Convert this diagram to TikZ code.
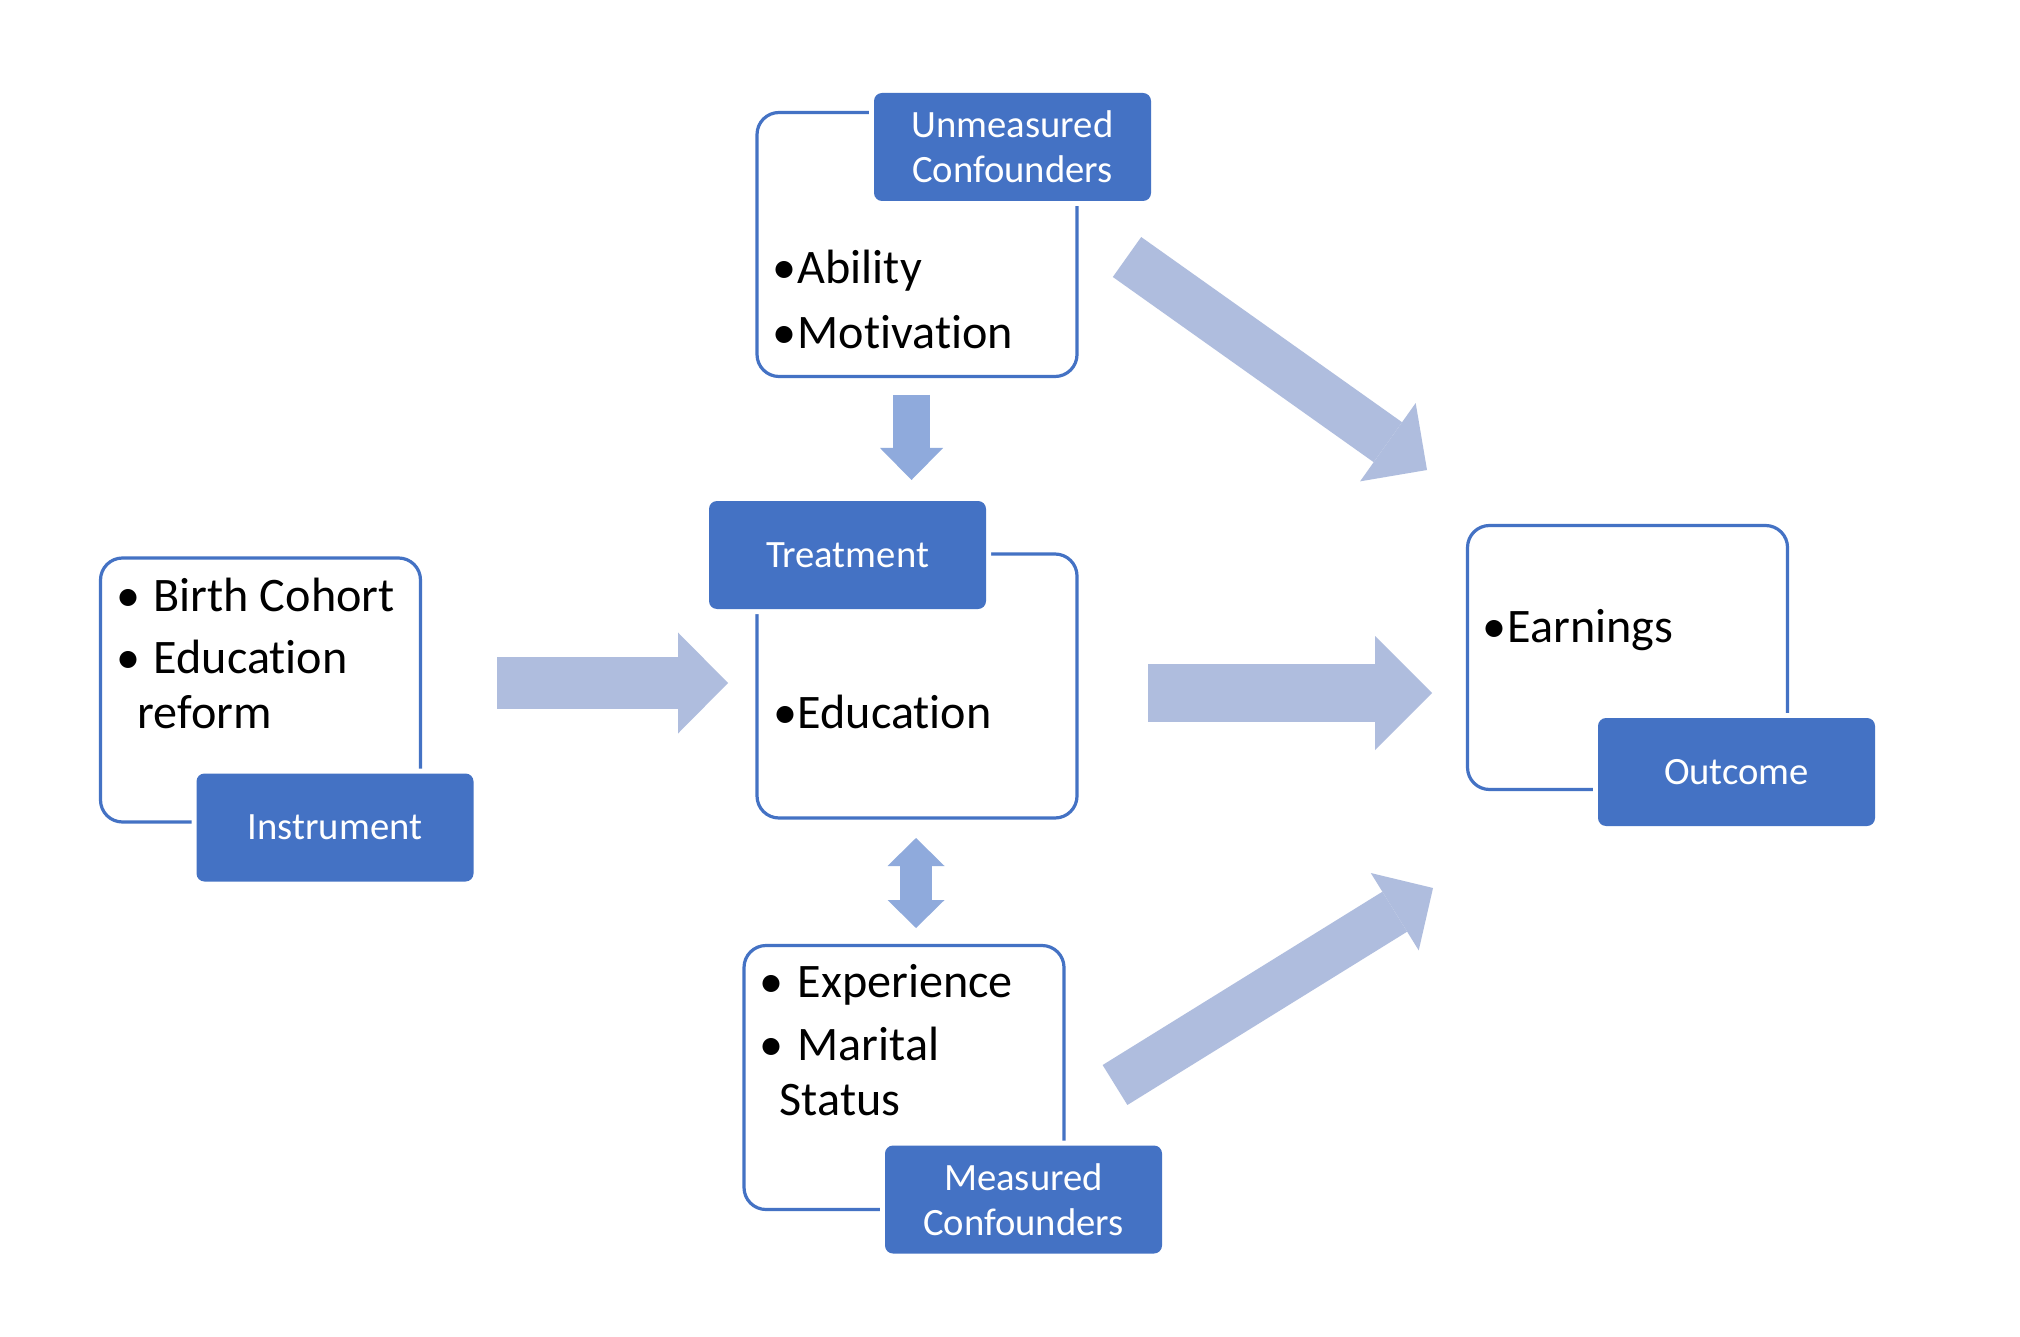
\documentclass[tikz,border=0pt]{standalone}
\usepackage{fontspec}
\setmainfont{Carlito}[Ligatures=NoCommon]
\usepackage{tikz}
\usetikzlibrary{arrows.meta}

\definecolor{lblblue}{HTML}{4472C4}
\definecolor{arrlav}{HTML}{AFBDDE}
\definecolor{arrblue}{HTML}{8FAADC}

\newcommand{\bl}[1]{\makebox[#1][l]{\textbullet}}

\tikzset{
  outline/.style={draw=lblblue, line width=0.32mm, rounded corners=2.2mm,
    minimum width=32mm, minimum height=26.4mm, inner sep=0pt},
  lbl/.style={fill=lblblue, rounded corners=0.8mm, text=white,
    preaction={draw=white, line width=1mm},
    minimum width=27.7mm, minimum height=10.8mm, inner sep=0pt,
    align=center, font=\fontsize{11pt}{12.8pt}\selectfont},
  item/.style={anchor=base west, inner sep=0pt, font=\fontsize{13.7pt}{16pt}\selectfont},
  fat/.style n args={4}{draw=#1, line width=#2,
    -{Triangle[width=#3, length=#4, line width=0pt]}},
  fatboth/.style n args={4}{draw=#1, line width=#2,
    {Triangle[width=#3, length=#4, line width=0pt]}-{Triangle[width=#3, length=#4, line width=0pt]}}
}

\begin{document}
\begin{tikzpicture}[x=0.1mm, y=-0.1mm]
\fill[white] (0,0) rectangle (2020,1336);
\useasboundingbox (0,0) rectangle (2020,1336);

\node[outline] (unmeasBox) at (917,244.5) {};
\node[outline] (instrBox) at (260.5,690) {};
\node[outline] (educBox) at (917,686) {};
\node[outline] (measBox) at (904,1077.5) {};
\node[outline] (outBox) at (1627.5,657.5) {};

\node[lbl] (unmeasLbl) at (1012.5,147) {Unmeasured\\Confounders};
\node[lbl] (instrLbl) at (335,827.5) {Instrument};
\node[lbl] (treatLbl) at (847.5,555) {Treatment};
\node[lbl] (measLbl) at (1023.5,1199.5) {Measured\\Confounders};
\node[lbl] (outLbl) at (1736.5,772) {Outcome};

\node[item] (ability) at (772,284) {\bl{2.5mm}Ability};
\node[item] (motiv) at (772,349) {\bl{2.5mm}Motivation};
\node[item] (birth) at (116,611) {\bl{3.7mm}Birth Cohort};
\node[item] (reform1) at (116,673) {\bl{3.7mm}Education};
\node[item] (reform2) at (137,728) {reform};
\node[item] (educ) at (773,728) {\bl{2.4mm}Education};
\node[item] (exper) at (759,997) {\bl{3.8mm}Experience};
\node[item] (marit1) at (759,1060) {\bl{3.8mm}Marital};
\node[item] (marit2) at (779,1115) {Status};
\node[item] (earn) at (1482,642) {\bl{2.5mm}Earnings};

\coordinate (uTail) at (1127,257);
\coordinate (uTip) at (1427,470);
\coordinate (mTail) at (1115,1085);
\coordinate (mTip) at (1433,888);
\coordinate (iTail) at (497,683);
\coordinate (iTip) at (728,683);
\coordinate (eTail) at (1148,693);
\coordinate (eTip) at (1432,693);
\coordinate (dTail) at (911.5,395);
\coordinate (dTip) at (911.5,480);
\coordinate (bTop) at (916,838);
\coordinate (bBot) at (916,928);

\draw[fat={arrlav}{4.9mm}{9.6mm}{4.8mm}] (uTail) -- (uTip);
\draw[fat={arrlav}{4.7mm}{9.1mm}{4.5mm}] (mTail) -- (mTip);
\draw[fat={arrlav}{5.2mm}{10.1mm}{5mm}] (iTail) -- (iTip);
\draw[fat={arrlav}{5.8mm}{11.4mm}{5.7mm}] (eTail) -- (eTip);
\draw[fat={arrblue}{3.7mm}{6.3mm}{3.2mm}] (dTail) -- (dTip);
%\draw[fat={arrblue}{3.2mm}{5.7mm}{2.8mm}] (bBot) -- (bTop);
\draw[fatboth={arrblue}{3.2mm}{5.7mm}{2.8mm}] (bTop) -- (bBot);
\end{tikzpicture}
\end{document}
